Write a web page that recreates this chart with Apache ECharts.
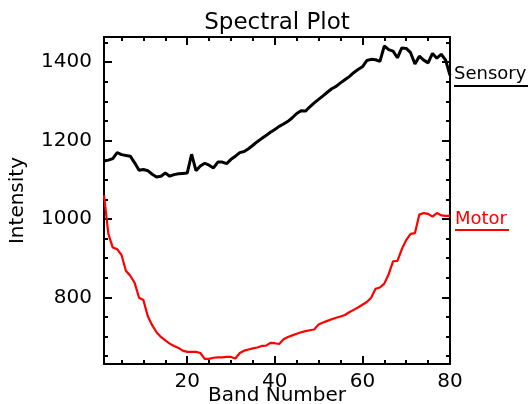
<!DOCTYPE html>
<html>
<head>
<meta charset="utf-8">
<script src="https://cdn.jsdelivr.net/npm/echarts@6/dist/echarts.min.js"></script>
<style>
html, body { margin: 0; padding: 0; background: #fff; }
#spectral { width: 531px; height: 404px; }
</style>
</head>
<body>
<div id="spectral"></div>
<script>
// band numbers 1..80
const bands = [
  1, 2, 3, 4, 5, 6, 7, 8, 9, 10, 11, 12, 13, 14, 15, 16, 17, 18, 19, 20,
  21, 22, 23, 24, 25, 26, 27, 28, 29, 30, 31, 32, 33, 34, 35, 36, 37, 38, 39, 40,
  41, 42, 43, 44, 45, 46, 47, 48, 49, 50, 51, 52, 53, 54, 55, 56, 57, 58, 59, 60,
  61, 62, 63, 64, 65, 66, 67, 68, 69, 70, 71, 72, 73, 74, 75, 76, 77, 78, 79, 80
];

const sensory = [
  1148, 1150, 1154, 1169, 1164, 1162, 1160, 1143, 1124, 1126,
  1123, 1114, 1107, 1109, 1117, 1109, 1113, 1115, 1116, 1117,
  1165, 1123, 1135, 1142, 1137, 1130, 1145, 1145, 1141, 1152,
  1160, 1169, 1172, 1179, 1188, 1197, 1205, 1213, 1221, 1228,
  1236, 1242, 1249, 1258, 1269, 1276, 1275, 1286, 1296, 1305,
  1314, 1323, 1332, 1338, 1347, 1355, 1363, 1373, 1381, 1388,
  1404, 1407, 1406, 1402, 1441, 1432, 1428, 1411, 1436, 1435,
  1424, 1395, 1415, 1405, 1398, 1422, 1410, 1420, 1405, 1366
];

const motor = [
  1060, 962, 927, 923, 908, 868, 855, 837, 799, 793,
  752, 729, 711, 699, 690, 682, 676, 671, 664, 661,
  661, 661, 658, 643, 643, 646, 647, 647, 648, 648,
  644, 658, 664, 667, 670, 672, 676, 677, 684, 683,
  681, 693, 699, 703, 707, 711, 714, 716, 718, 731,
  736, 740, 744, 748, 751, 755, 762, 768, 774, 781,
  788, 799, 822, 825, 835, 859, 892, 893, 923, 946,
  962, 964, 1011, 1015, 1013, 1006, 1015, 1009, 1008, 1008
];

const xMajor = [20, 40, 60, 80];
const xMinor = [5, 10, 15, 25, 30, 35, 45, 50, 55, 65, 70, 75];
const yMajor = [800, 1000, 1200, 1400];
const yMinor = [650, 700, 750, 850, 900, 950, 1050, 1100, 1150, 1250, 1300, 1350, 1450];

const FONT = "DejaVu Sans";
const xRange = { min: 1, max: 80 };
const yRange = { min: 630, max: 1464 };

// one axis of the box: major ticks (optionally labelled) or minor ticks
function boxAxis(range, position, ticks, len, withLine, labels) {
  return {
    type: "value",
    position: position,
    min: range.min,
    max: range.max,
    axisLine: { show: withLine, onZero: false, lineStyle: { color: "#000", width: 2 } },
    axisTick: {
      show: true,
      inside: true,
      length: len,
      customValues: ticks,
      lineStyle: { color: "#000", width: 2 }
    },
    axisLabel: labels
      ? {
          show: true,
          customValues: labels,
          margin: 8,
          fontSize: 20,
          fontFamily: FONT,
          color: "#000",
          formatter: v => String(v)
        }
      : { show: false },
    splitLine: { show: false }
  };
}

function pairs(values) {
  return values.map((v, i) => [bands[i], v]);
}

const xBottom = boxAxis(xRange, "bottom", xMajor, 8, true, xMajor);
xBottom.name = "Band Number";
xBottom.nameLocation = "middle";
xBottom.nameGap = 22;
xBottom.nameMoveOverlap = false;
xBottom.nameTextStyle = { fontSize: 20, fontFamily: FONT, color: "#000" };

const yLeft = boxAxis(yRange, "left", yMajor, 8, true, yMajor);
yLeft.axisLabel.margin = 12;
yLeft.name = "Intensity";
yLeft.nameLocation = "middle";
yLeft.nameGap = 76;
yLeft.nameMoveOverlap = false;
yLeft.nameTextStyle = { fontSize: 20, fontFamily: FONT, color: "#000" };

const option = {
  animation: false,
  backgroundColor: "#fff",
  textStyle: { fontFamily: FONT },
  grid: { left: 104, right: 81, top: 37, bottom: 40, containLabel: false, outerBoundsMode: "none" },
  xAxis: [
    xBottom,
    boxAxis(xRange, "bottom", xMinor, 4, false, null),
    boxAxis(xRange, "top", xMajor, 8, true, null),
    boxAxis(xRange, "top", xMinor, 4, false, null)
  ],
  yAxis: [
    yLeft,
    boxAxis(yRange, "left", yMinor, 4, false, null),
    boxAxis(yRange, "right", yMajor, 8, true, null),
    boxAxis(yRange, "right", yMinor, 4, false, null)
  ],
  graphic: [
    {
      type: "text",
      x: 277,
      y: 23,
      style: { text: "Spectral Plot", fontSize: 23, fontFamily: FONT, fill: "#000", align: "center", verticalAlign: "middle" }
    },
    {
      type: "text",
      x: 454,
      y: 74,
      style: { text: "Sensory", fontSize: 18, fontFamily: FONT, fill: "#000", align: "left", verticalAlign: "middle" }
    },
    {
      type: "line",
      shape: { x1: 454, y1: 86, x2: 528, y2: 86 },
      style: { stroke: "#000", lineWidth: 2 }
    },
    {
      type: "text",
      x: 455,
      y: 219,
      style: { text: "Motor", fontSize: 18, fontFamily: FONT, fill: "#ff0000", align: "left", verticalAlign: "middle" }
    },
    {
      type: "line",
      shape: { x1: 455, y1: 230, x2: 509, y2: 230 },
      style: { stroke: "#ff0000", lineWidth: 2 }
    }
  ],
  series: [
    {
      name: "Sensory",
      type: "line",
      data: pairs(sensory),
      showSymbol: false,
      lineStyle: { color: "#000", width: 3 },
      z: 3
    },
    {
      name: "Motor",
      type: "line",
      data: pairs(motor),
      showSymbol: false,
      lineStyle: { color: "#ff0000", width: 2.2 },
      z: 3
    }
  ]
};

const chart = echarts.init(document.getElementById("spectral"));
chart.setOption(option);
</script>
</body>
</html>
